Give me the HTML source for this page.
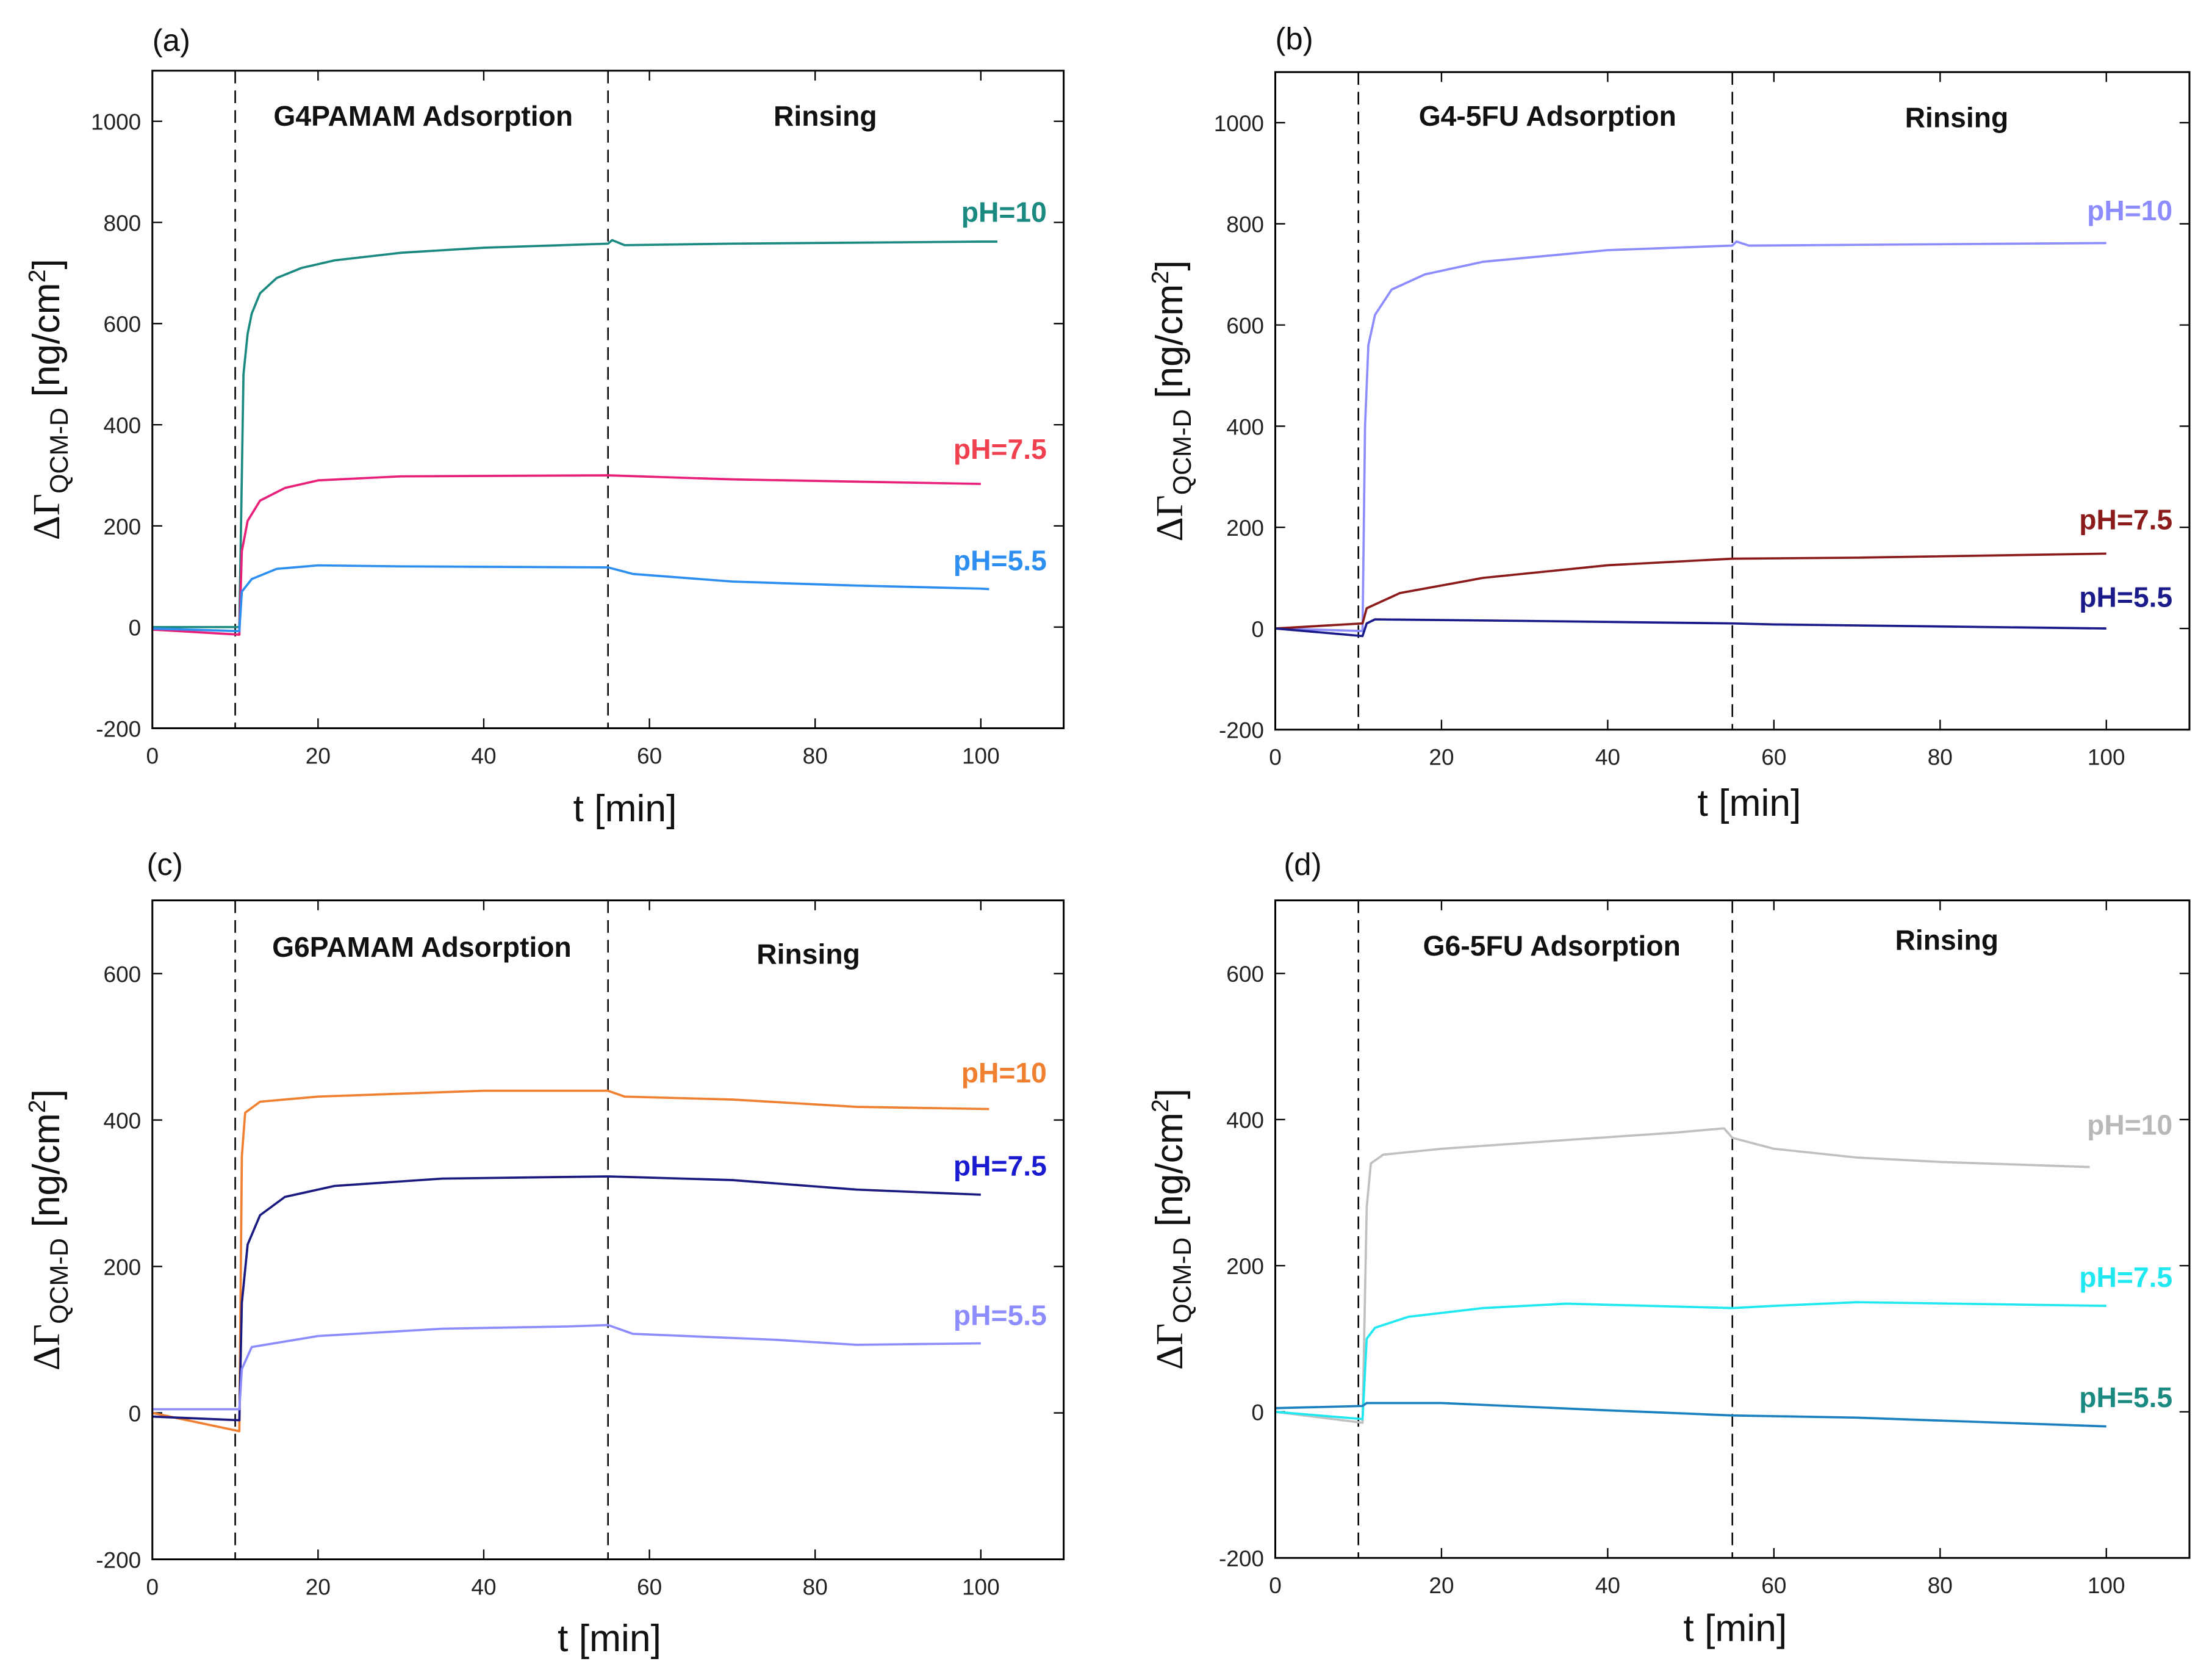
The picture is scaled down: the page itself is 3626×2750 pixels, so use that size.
<!DOCTYPE html>
<html><head><meta charset="utf-8"><style>
html,body{margin:0;padding:0;background:#fff;}
svg{display:block;}
text{font-family:"Liberation Sans",sans-serif;}
</style></head><body>
<svg id="fig" xmlns="http://www.w3.org/2000/svg" width="3626" height="2750" viewBox="0 0 1568 1189"></svg>
<script>
// ---- data ----
const xTicks = [0,20,40,60,80,100];
const yTicksAB = [-200,0,200,400,600,800,1000];
const yTicksCD = [-200,0,200,400,600];
const phLabels = ["pH=10","pH=7.5","pH=5.5"];

const a10 = [[0,0],[10.5,0],[10.8,300],[11,500],[11.5,580],[12,620],[13,660],[15,690],[18,710],[22,725],[30,740],[40,750],[55,758],[55.5,765],[57,755],[70,758],[100,762],[102,762]];
const a75 = [[0,-5],[10.5,-15],[10.8,150],[11.5,210],[13,250],[16,275],[20,290],[30,298],[55,300],[70,292],[100,283]];
const a55 = [[0,-3],[10.5,-8],[10.8,70],[12,95],[15,115],[20,122],[30,120],[55,118],[58,105],[70,90],[85,82],[100,76],[101,75]];

const b10 = [[0,0],[10.5,-5],[10.8,400],[11.2,560],[12,620],[14,670],[18,700],[25,725],[40,748],[55,757],[55.5,765],[57,757],[100,762]];
const b75 = [[0,0],[10.5,10],[11,40],[15,70],[25,100],[40,125],[55,138],[70,140],[100,148]];
const b55 = [[0,0],[10.5,-15],[11,10],[12,18],[30,15],[55,10],[60,8],[100,0]];

const c10 = [[0,0],[10.5,-25],[10.8,350],[11.2,410],[13,425],[20,432],[40,440],[55,440],[57,432],[70,428],[85,418],[101,415]];
const c75 = [[0,-5],[10.5,-10],[10.8,150],[11.5,230],[13,270],[16,295],[22,310],[35,320],[55,323],[70,318],[85,305],[100,298]];
const c55 = [[0,5],[10.5,5],[10.8,60],[12,90],[20,105],[35,115],[50,118],[55,120],[58,108],[75,100],[85,93],[100,95]];

const d10 = [[0,0],[10.5,-15],[11,280],[11.5,340],[13,352],[20,360],[35,372],[48,382],[54,388],[55,375],[60,360],[70,348],[80,342],[98,335]];
const d75 = [[0,0],[10.5,-10],[11,100],[12,115],[16,130],[25,142],[35,148],[55,142],[60,145],[70,150],[100,145]];
const d55 = [[0,5],[10.5,8],[11,12],[20,12],[40,2],[55,-5],[70,-8],[100,-20]];

const NS="http://www.w3.org/2000/svg";
const svg=document.getElementById('fig');
function mk(tag,attrs,parent){const e=document.createElementNS(NS,tag);for(const k in attrs)e.setAttribute(k,attrs[k]);(parent||svg).appendChild(e);return e;}

const panels=[
 {id:'a',L:108,R:754,T:50,B:516,ymin:-200,ymax:1100,yt:yTicksAB,title:"G4PAMAM Adsorption",tx:300,ty:89,rx:585,ry:89,xl:[443,582],tag:[108,36],
  series:[[a10,"#1a8a80","#1a8a80",157],[a75,"#e8207a","#f04050",325],[a55,"#2b8ef0","#2b8ef0",404]]},
 {id:'b',L:904,R:1552,T:51,B:517,ymin:-200,ymax:1100,yt:yTicksAB,title:"G4-5FU Adsorption",tx:1097,ty:89,rx:1387,ry:90,xl:[1240,578],tag:[904,35],
  series:[[b10,"#8c8cff","#8c8cff",156],[b75,"#8b1a1a","#8b1a1a",375],[b55,"#1a1a8a","#1a1a8a",430]]},
 {id:'c',L:108,R:754,T:638,B:1105,ymin:-200,ymax:700,yt:yTicksCD,title:"G6PAMAM  Adsorption",tx:299,ty:678,rx:573,ry:683,xl:[432,1170],tag:[104,620],
  series:[[c10,"#f08030","#f08030",767],[c75,"#1a1a80","#1a1ad0",833],[c55,"#8c8cff","#8c8cff",939]]},
 {id:'d',L:904,R:1552,T:638,B:1104,ymin:-200,ymax:700,yt:yTicksCD,title:"G6-5FU Adsorption",tx:1100,ty:677,rx:1380,ry:673,xl:[1230,1163],tag:[910,620],
  series:[[d10,"#c0c0c0","#b8b8b8",804],[d75,"#20e8f0","#20e8f0",912],[d55,"#1a80c0","#1a8a80",997]]}
];

panels.forEach(p=>{
 const g=mk('g',{});
 
 
 const x0=p.L, x100=p.L+(p.R-p.L)*100/110;
 const sx=v=>p.L+(v/110)*(p.R-p.L);
 const sy=v=>p.B-(v-p.ymin)/(p.ymax-p.ymin)*(p.B-p.T);
 // ticks
 xTicks.forEach(t=>{
  mk('line',{x1:sx(t),x2:sx(t),y1:p.B,y2:p.B-7,stroke:'#000','stroke-width':1},g);
  mk('line',{x1:sx(t),x2:sx(t),y1:p.T,y2:p.T+7,stroke:'#000','stroke-width':1},g);
  const tl=mk('text',{x:sx(t),y:p.B+25,'text-anchor':'middle','font-size':16,fill:'#222'},g);
  tl.textContent=t;
  
  
 });
 p.yt.forEach(t=>{
  mk('line',{x1:p.L,x2:p.L+7,y1:sy(t),y2:sy(t),stroke:'#000','stroke-width':1},g);
  mk('line',{x1:p.R,x2:p.R-7,y1:sy(t),y2:sy(t),stroke:'#000','stroke-width':1},g);
  const tl=mk('text',{x:p.L-8,y:sy(t)+6,'text-anchor':'end','font-size':16,fill:'#222'},g);
  tl.textContent=t;
  
  
 });
 // dashed lines
 [10,55].forEach(t=>{
  const dl=mk('line',{x1:sx(t),x2:sx(t),y1:p.T,y2:p.B,stroke:'#000','stroke-width':1.1,'stroke-dasharray':'9,5'},g);
  
  
 });
 // series
 p.series.forEach((s,i)=>{
  const pts=s[0].map(d=>sx(d[0]).toFixed(2)+','+sy(d[1]).toFixed(2)).join(' ');
  const pl=mk('polyline',{points:pts,fill:'none',stroke:s[1],'stroke-width':1.6,'stroke-linejoin':'round'},g);
  
  
  const lb=mk('text',{x:p.R-12,y:s[3],'text-anchor':'end','font-size':20,'font-weight':'bold',fill:s[2]},g);
  lb.textContent=phLabels[i];
  
  
 });
 // frame
 const fr=mk('rect',{x:p.L,y:p.T,width:p.R-p.L,height:p.B-p.T,fill:'none',stroke:'#000','stroke-width':1.3},g);
 
 
 // titles
 const t1=mk('text',{x:p.tx,y:p.ty,'text-anchor':'middle','font-size':20,'font-weight':'bold',fill:'#111'},g);
 t1.textContent=p.title;
 
 
 const t2=mk('text',{x:p.rx,y:p.ry,'text-anchor':'middle','font-size':20,'font-weight':'bold',fill:'#111'},g);
 t2.textContent="Rinsing";
 
 
 // tag
 const tg=mk('text',{x:p.tag[0],y:p.tag[1],'font-size':22,fill:'#111'},g);
 tg.textContent='('+p.id+')';
 
 
 // x label
 const xl=mk('text',{x:p.xl[0],y:p.xl[1],'text-anchor':'middle','font-size':27,fill:'#111'},g);
 xl.textContent='t [min]';
 
 
 // y label
 const cy=(p.T+p.B)/2;
 const yl=mk('text',{x:0,y:0,'text-anchor':'middle','font-size':27,fill:'#111',transform:'translate('+(p.L-66)+','+cy+') rotate(-90)'},g);
 
 
 const s1=mk('tspan',{'font-family':'"Liberation Serif",serif'},yl); s1.textContent='ΔΓ';
 const s2=mk('tspan',{'font-size':18,dy:6},yl); s2.textContent='QCM-D';
 const s3=mk('tspan',{dy:-6},yl); s3.textContent=' [ng/cm';
 const s4=mk('tspan',{'font-size':17,dy:-10},yl); s4.textContent='2';
 const s5=mk('tspan',{dy:10},yl); s5.textContent=']';
});
</script>
</body></html>
